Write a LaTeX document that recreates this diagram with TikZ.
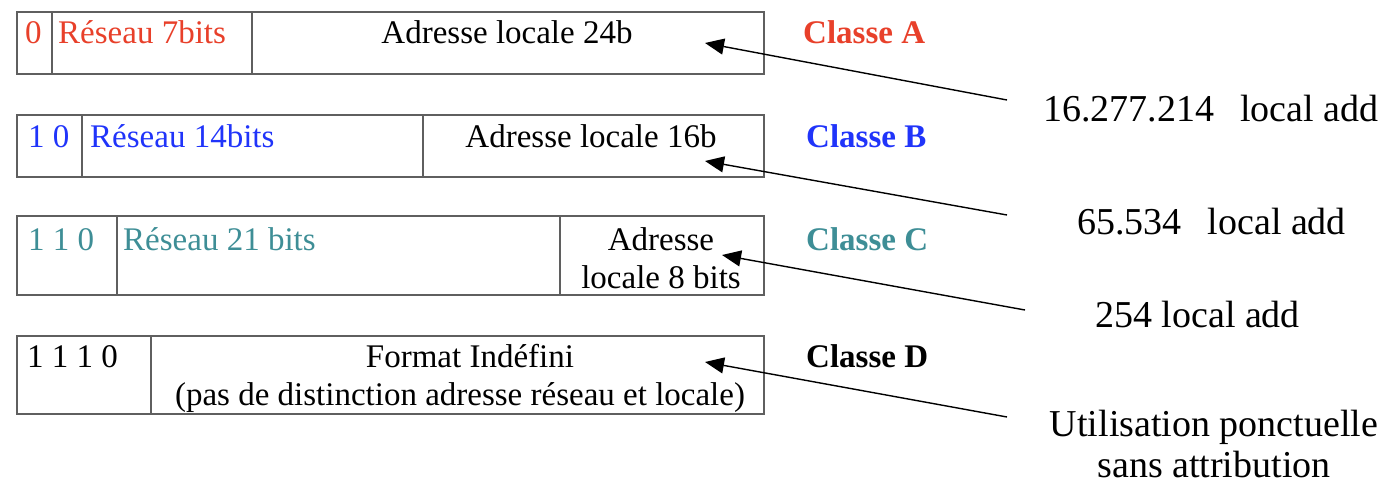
\documentclass[tikz,border=0pt]{standalone}
\usepackage{fontspec}
\setmainfont{Liberation Serif}
\usetikzlibrary{arrows.meta}
\definecolor{clsA}{RGB}{232,64,42}
\definecolor{clsB}{RGB}{32,52,250}
\definecolor{clsC}{RGB}{62,142,150}
\definecolor{rule}{RGB}{95,95,95}
\tikzset{
  cell/.style={draw=rule, line width=1.6pt, inner sep=0pt, anchor=north west},
  fld/.style={inner sep=0pt, anchor=base west, font=\fontsize{33}{38}\selectfont},
  fldc/.style={inner sep=0pt, anchor=base, font=\fontsize{33}{38}\selectfont},
  cls/.style={inner sep=0pt, anchor=base west, font=\fontsize{33}{38}\selectfont\bfseries},
  note/.style={inner sep=0pt, anchor=base west, font=\fontsize{38}{43}\selectfont},
  notec/.style={inner sep=0pt, anchor=base, font=\fontsize{38}{43}\selectfont},
  ptr/.style={line width=1.4pt, -{Triangle[length=19pt,width=16pt]}}
}
\begin{document}
\begin{tikzpicture}[x=1pt,y=-1pt]
\useasboundingbox (0,0) rectangle (1392,485);

% Class A: 0 | network 7 bits | local 24 bits
\node[cell, minimum width=35pt,  minimum height=62pt] (a1) at (16,11) {};
\node[cell, minimum width=200pt, minimum height=62pt] (a2) at (51,11) {};
\node[cell, minimum width=512pt, minimum height=62pt] (a3) at (251,11) {};
\node[fld, text=clsA] (a1t) at (25,43) {0};
\node[fld, text=clsA] (a2t) at (58,43) {Réseau 7bits};
\node[fldc] (a3t) at (507,43) {Adresse locale 24b};
\node[cls, text=clsA] (ca) at (803,43) {Classe A};

% Class B: 10 | network 14 bits | local 16 bits
\node[cell, minimum width=65pt,  minimum height=62pt] (b1) at (16,114) {};
\node[cell, minimum width=341pt, minimum height=62pt] (b2) at (81,114) {};
\node[cell, minimum width=341pt, minimum height=62pt] (b3) at (422,114) {};
\node[fld, text=clsB] (b1t) at (28,147) {1 0};
\node[fld, text=clsB] (b2t) at (90,147) {Réseau 14bits};
\node[fldc] (b3t) at (591,147) {Adresse locale 16b};
\node[cls, text=clsB] (cb) at (806,147) {Classe B};

% Class C: 110 | network 21 bits | local 8 bits
\node[cell, minimum width=100pt, minimum height=79pt] (c1) at (16,215) {};
\node[cell, minimum width=443pt, minimum height=79pt] (c2) at (116,215) {};
\node[cell, minimum width=204pt, minimum height=79pt] (c3) at (559,215) {};
\node[fld, text=clsC] (c1t) at (28,250) {1 1 0};
\node[fld, text=clsC] (c2t) at (123,250) {Réseau 21 bits};
\node[fldc] (c3t) at (661,250) {Adresse};
\node[fldc] (c3u) at (661,288) {locale 8 bits};
\node[cls, text=clsC] (cc) at (806,250) {Classe C};

% Class D: 1110 | undefined format
\node[cell, minimum width=134pt, minimum height=78pt] (d1) at (16,335) {};
\node[cell, minimum width=613pt, minimum height=78pt] (d2) at (150,335) {};
\node[fld] (d1t) at (27,367) {1 1 1 0};
\node[fldc] (d2t) at (470,367) {Format Indéfini};
\node[fldc] (d2u) at (460,405) {(pas de distinction adresse réseau et locale)};
\node[cls] (cd) at (806,367) {Classe D};

% Host counts
\node[note] (na) at (1043,121) {16.277.214\hspace{26pt}local add};
\node[note] (nb) at (1077,234) {65.534\hspace{26pt}local add};
\node[note] (nc) at (1095,327) {254 local add};
\node[notec] (nd) at (1214,436) {Utilisation ponctuelle};
\node[notec] (nd2) at (1214,477) {sans attribution};

% Pointers from the counts to the local parts
\coordinate (sa) at (1007,100);
\coordinate (sb) at (1007,215);
\coordinate (sc) at (1025,310);
\coordinate (sd) at (1007,417);
\coordinate (ta) at (705,43);
\coordinate (tb) at (705,161);
\coordinate (tc) at (722,255);
\coordinate (td) at (705,362);
\draw[ptr] (sa) -- (ta);
\draw[ptr] (sb) -- (tb);
\draw[ptr] (sc) -- (tc);
\draw[ptr] (sd) -- (td);
\end{tikzpicture}
\end{document}
